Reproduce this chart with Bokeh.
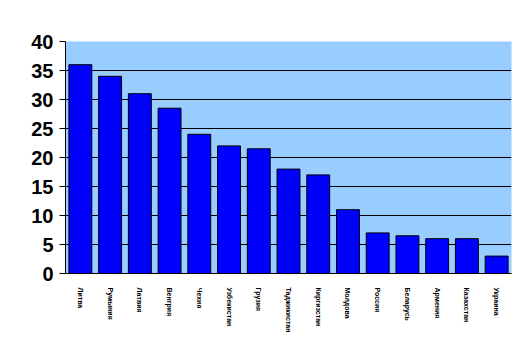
import math
from bokeh.plotting import figure
from bokeh.models import Range1d, FixedTicker
from bokeh.embed import file_html
from bokeh.resources import INLINE

countries = ["Литва", "Румыния", "Латвия", "Венгрия", "Чехия", "Узбекистан", "Грузия",
             "Таджикистан", "Киргизстан", "Молдова", "Россия", "Беларусь", "Армения",
             "Казахстан", "Украина"]
values = [36, 34, 31, 28.5, 24, 22, 21.5, 18, 17, 11, 7, 6.5, 6, 6, 3]
y_ticks = [0, 5, 10, 15, 20, 25, 30, 35, 40]

p = figure(width=527, height=351, x_range=countries, y_range=Range1d(0, 40),
           output_backend="svg", toolbar_location=None)
p.min_border_left = 65
p.min_border_right = 16
p.min_border_top = 41
p.min_border_bottom = 78
p.background_fill_color = "#99CCFF"
p.border_fill_color = "white"
p.outline_line_color = None

p.vbar(x=countries, top=values, width=0.77, fill_color="#0000FF",
       line_color="black", line_width=1)

p.yaxis.ticker = FixedTicker(ticks=y_ticks)
p.yaxis.major_label_text_font = "Arial"
p.yaxis.major_label_text_font_size = "20px"
p.yaxis.major_label_text_font_style = "bold"
p.yaxis.major_label_text_color = "black"
p.yaxis.major_tick_out = 6
p.yaxis.major_tick_in = 0
p.yaxis.minor_tick_line_color = None
p.yaxis.axis_line_color = "black"
p.yaxis.major_tick_line_color = "black"
p.yaxis.major_label_standoff = 6

p.xaxis.major_label_orientation = -math.pi / 2
p.xaxis.major_label_text_font = "Arial"
p.xaxis.major_label_text_font_size = "7px"
p.xaxis.major_label_text_font_style = "bold"
p.xaxis.major_label_text_color = "black"
p.xaxis.major_tick_line_color = None
p.xaxis.axis_line_color = "black"
p.xaxis.major_label_standoff = 8

p.xgrid.grid_line_color = None
p.ygrid.grid_line_color = "black"
p.ygrid.grid_line_width = 1

open("out.html", "w").write(file_html(p, INLINE))
